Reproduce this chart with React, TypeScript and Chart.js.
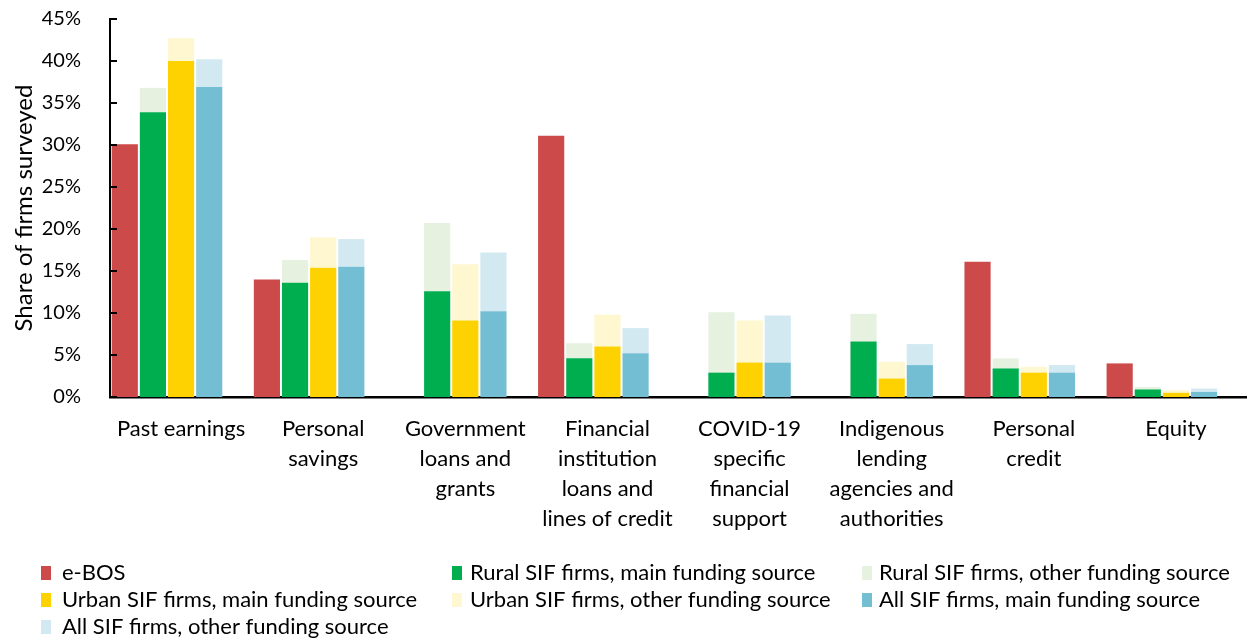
import React, { useEffect, useRef } from "react";
import { Chart, registerables } from "chart.js";

Chart.register(...registerables);

const categories: (string | string[])[] = [
  "Past earnings",
  ["Personal", "savings"],
  ["Government", "loans and", "grants"],
  ["Financial", "institution", "loans and", "lines of credit"],
  ["COVID-19", "specific", "financial", "support"],
  ["Indigenous", "lending", "agencies and", "authorities"],
  ["Personal", "credit"],
  "Equity",
];

const eBOS = [30.1, 14.0, null, 31.1, null, null, 16.1, 4.0];
const ruralMain = [33.9, 13.6, 12.6, 4.6, 2.9, 6.6, 3.4, 0.9];
const ruralOther = [2.9, 2.7, 8.1, 1.8, 7.2, 3.3, 1.2, 0.3];
const urbanMain = [40.0, 15.4, 9.1, 6.0, 4.1, 2.2, 2.9, 0.5];
const urbanOther = [2.7, 3.6, 6.7, 3.8, 5.0, 2.0, 0.7, 0.3];
const allMain = [36.9, 15.5, 10.2, 5.2, 4.1, 3.8, 2.9, 0.6];
const allOther = [3.3, 3.3, 7.0, 3.0, 5.6, 2.5, 0.9, 0.4];

const yTicks = [0, 5, 10, 15, 20, 25, 30, 35, 40, 45];

const FONT = "Lato";

const legendPlugin = {
  id: "gridLegend",
  afterDraw(chart: any) {
    const ctx = chart.ctx;
    const items = chart.data.datasets.filter((d: any) => d.label !== "pad");
    const boxX = [41, 452, 862];
    const textX = [62, 470, 879];
    const rowY = [573, 600, 627];
    ctx.save();
    ctx.font = `22px ${FONT}`;
    ctx.textBaseline = "middle";
    ctx.textAlign = "left";
    items.forEach((d: any, i: number) => {
      const col = i % 3;
      const row = Math.floor(i / 3);
      ctx.fillStyle = d.backgroundColor;
      ctx.fillRect(boxX[col], rowY[row] - 7, 10, 14);
      ctx.fillStyle = "#000";
      ctx.fillText(d.label, textX[col], rowY[row]);
    });
    ctx.restore();
  },
};

const innerTicksPlugin = {
  id: "innerTicks",
  afterDatasetsDraw(chart: any) {
    const ctx = chart.ctx;
    const y = chart.scales.y;
    const left = chart.chartArea.left;
    ctx.save();
    ctx.strokeStyle = "#000";
    ctx.lineWidth = 2;
    yTicks.forEach((v) => {
      const py = Math.round(y.getPixelForValue(v));
      ctx.beginPath();
      ctx.moveTo(left - 1, py);
      ctx.lineTo(left + 7, py);
      ctx.stroke();
    });
    ctx.restore();
  },
};

export default function App() {
  const ref = useRef<HTMLCanvasElement | null>(null);

  useEffect(() => {
    if (!ref.current) return;
    const mk = (label: string, data: (number | null)[], color: string, stack: string) => ({
      label,
      data,
      backgroundColor: color,
      stack,
      barPercentage: 0.93,
      categoryPercentage: 0.99,
      borderWidth: 0,
    });
    const chart = new Chart(ref.current, {
      type: "bar",
      data: {
        labels: categories,
        datasets: [
          mk("e-BOS", eBOS, "#CD4A4A", "a"),
          mk("Rural SIF firms, main funding source", ruralMain, "#00AE50", "b"),
          mk("Rural SIF firms, other funding source", ruralOther, "#E6F1E0", "b"),
          mk("Urban SIF firms, main funding source", urbanMain, "#FDD200", "c"),
          mk("Urban SIF firms, other funding source", urbanOther, "#FEF7CF", "c"),
          mk("All SIF firms, main funding source", allMain, "#74BED4", "d"),
          mk("All SIF firms, other funding source", allOther, "#D2E9F1", "d"),
          mk("pad", categories.map(() => null), "rgba(0,0,0,0)", "e"),
        ],
      },
      options: {
        animation: false,
        responsive: false,
        maintainAspectRatio: false,
        layout: { padding: { top: 19, bottom: 100, left: 0, right: 0 } },
        plugins: {
          legend: { display: false },
          tooltip: { enabled: false },
        },
        scales: {
          x: {
            stacked: true,
            grid: { display: false },
            border: { display: true, color: "#000", width: 2.5 },
            ticks: {
              color: "#000",
              font: { family: FONT, size: 22, lineHeight: 1.36 },
              padding: 9,
              maxRotation: 0,
              autoSkip: false,
            },
            afterFit: (s: any) => {
              s.height = 639 - 397 - 100;
              s.paddingLeft = 0;
              s.paddingRight = 0;
            },
          },
          y: {
            stacked: true,
            min: 0,
            max: 45,
            afterBuildTicks: (s: any) => {
              s.ticks = yTicks.map((v) => ({ value: v }));
            },
            grid: {
              display: false,
            },
            border: { display: true, color: "#000", width: 2 },
            ticks: {
              color: "#000",
              font: { family: FONT, size: 20 },
              padding: 21,
              callback: (v: any) => `${v}%`,
            },
            title: {
              display: true,
              text: "Share of firms surveyed",
              color: "#000",
              font: { family: FONT, size: 24 },
              padding: { top: 10, bottom: 0 },
            },
            afterFit: (s: any) => {
              s.width = 110;
              s.paddingTop = 0;
              s.paddingBottom = 0;
            },
          },
        },
      },
      plugins: [innerTicksPlugin, legendPlugin],
    });
    return () => chart.destroy();
  }, []);

  return (
    <div style={{ position: "absolute", left: 0, top: 0, width: 1247, height: 639, background: "#fff" }}>
      <canvas ref={ref} width={1247} height={639} style={{ width: 1247, height: 639 }} />
    </div>
  );
}
